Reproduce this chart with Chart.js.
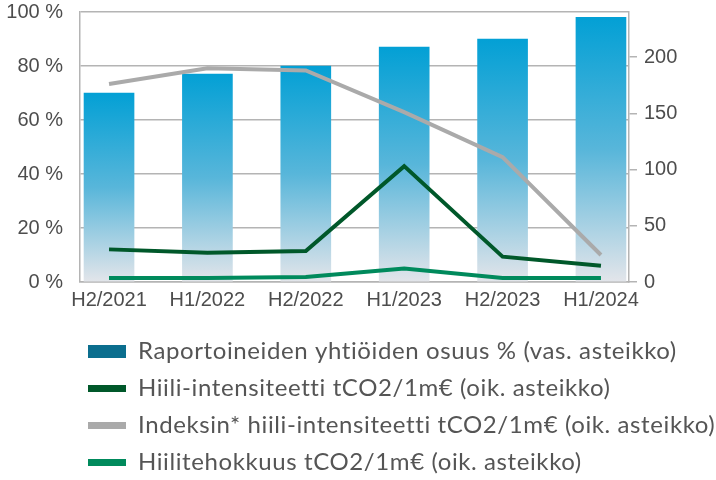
<!DOCTYPE html>
<html>
<head>
<meta charset="utf-8">
<script src="https://cdn.jsdelivr.net/npm/chart.js@4/dist/chart.umd.min.js"></script>
<style>
  html, body { margin: 0; padding: 0; background: #fff; }
  #wrap { width: 716px; height: 480px; }
</style>
</head>
<body>
<div id="wrap"><canvas id="chart" width="716" height="480"></canvas></div>
<script>
// periods
const categories = ["H2/2021", "H1/2022", "H2/2022", "H1/2023", "H2/2023", "H1/2024"];
// left axis, %
const shareReported = [70, 77, 80, 87, 90, 98];
// right axis, tCO2/1m€
const carbonIntensity = [29, 26, 27.5, 103, 22.5, 14.5];
const indexIntensity = [176, 190, 188, 151, 111, 24];
const carbonEfficiency = [3.5, 3.5, 4.4, 12, 3.5, 3.5];

const labels = [
  "Raportoineiden yhtiöiden osuus % (vas. asteikko)",
  "Hiili-intensiteetti tCO2/1m€ (oik. asteikko)",
  "Indeksin* hiili-intensiteetti tCO2/1m€ (oik. asteikko)",
  "Hiilitehokkuus tCO2/1m€ (oik. asteikko)"
];
const legendColors = ["#0b6e8e", "#00582a", "#aaaaaa", "#008a5c"];

const toPoints = (arr) => arr.map((v, i) => ({ x: i, y: v }));

// each bar gets its own gradient from its top down to zero
function barFill(ctx) {
  const chart = ctx.chart;
  const yScale = chart.scales.y;
  if (!yScale || !chart.chartArea || ctx.type !== "data") return "#0aa0d6";
  const top = yScale.getPixelForValue(ctx.parsed.y);
  const bottom = yScale.getPixelForValue(0);
  const g = chart.ctx.createLinearGradient(0, top, 0, bottom);
  g.addColorStop(0, "#03a0d5");
  g.addColorStop(0.5, "#58b6da");
  g.addColorStop(1, "#e3e5ea");
  return g;
}

// legend sits indented under the plot, with a bit of letter spacing
const legendShift = {
  id: "legendShift",
  afterLayout(chart) {
    const lg = chart.legend;
    lg.left = 75;
    lg.top += 4.5;
    lg.bottom += 4.5;
    if (!lg._spaced) {
      const draw = lg.draw.bind(lg);
      lg.draw = function (area) {
        const c = this.ctx;
        c.save();
        c.letterSpacing = "0.6px";
        draw(area);
        c.restore();
      };
      lg._spaced = true;
    }
  }
};

const gridColor = "#b4b4b4";
const tickColor = "#4d4d4d";
const tickFont = "'Liberation Sans', Arial, sans-serif";

// tick padding should not push the plot down
const fixVertical = (width) => (axis) => {
  axis.width = width;
  axis.paddingTop = 0;
  axis.paddingBottom = 0;
};

new Chart(document.getElementById("chart"), {
  type: "bar",
  data: {
    datasets: [
      {
        type: "bar",
        label: labels[0],
        data: toPoints(shareReported),
        backgroundColor: barFill,
        barThickness: 50,
        yAxisID: "y",
        order: 2
      },
      {
        type: "line",
        label: labels[1],
        data: toPoints(carbonIntensity),
        borderColor: legendColors[1],
        backgroundColor: legendColors[1],
        borderWidth: 4,
        pointRadius: 0,
        yAxisID: "y1",
        order: 1
      },
      {
        type: "line",
        label: labels[2],
        data: toPoints(indexIntensity),
        borderColor: legendColors[2],
        backgroundColor: legendColors[2],
        borderWidth: 4,
        pointRadius: 0,
        yAxisID: "y1",
        order: 1
      },
      {
        type: "line",
        label: labels[3],
        data: toPoints(carbonEfficiency),
        borderColor: legendColors[3],
        backgroundColor: legendColors[3],
        borderWidth: 4,
        pointRadius: 0,
        yAxisID: "y1",
        order: 1
      }
    ]
  },
  options: {
    responsive: false,
    animation: false,
    layout: { padding: { top: 12, left: 0, right: 0, bottom: 0 } },
    plugins: {
      tooltip: { enabled: false },
      legend: {
        position: "bottom",
        align: "start",
        labels: {
          usePointStyle: true,
          pointStyleWidth: 38,
          boxHeight: 13,
          padding: 13,
          color: "#555555",
          font: { family: "Lato", size: 24 },
          generateLabels: (chart) => {
            const items = Chart.defaults.plugins.legend.labels.generateLabels(chart);
            items.sort((a, b) => a.datasetIndex - b.datasetIndex);
            items.forEach((it) => {
              const i = it.datasetIndex;
              it.fillStyle = legendColors[i];
              it.strokeStyle = legendColors[i];
              it.pointStyle = i === 0 ? "rect" : "line";
              it.lineWidth = i === 0 ? 0 : 7;
              it.lineCap = "butt";
            });
            return items;
          }
        }
      }
    },
    scales: {
      x: {
        type: "linear",
        offset: false,
        min: -0.295,
        max: 5.285,
        grid: { display: false, drawTicks: false },
        border: { display: true, color: gridColor, width: 1.5 },
        afterBuildTicks: (axis) => {
          axis.ticks = categories.map((_, i) => ({ value: i }));
        },
        afterFit: (axis) => { axis.height = 40; },
        ticks: {
          padding: 6,
          color: tickColor,
          font: { family: tickFont, size: 20 },
          maxRotation: 0,
          autoSkip: false,
          callback: (v) => categories[v]
        }
      },
      y: {
        position: "left",
        min: 0,
        max: 100,
        grid: { color: gridColor, lineWidth: 1.5, drawTicks: false },
        border: { display: true, color: gridColor, width: 1.5 },
        afterFit: fixVertical(80),
        ticks: {
          stepSize: 20,
          padding: 17,
          color: tickColor,
          font: { family: tickFont, size: 20 },
          callback: (v) => v + " %"
        }
      },
      y1: {
        position: "right",
        min: 0,
        max: 240,
        grid: { drawOnChartArea: false, color: gridColor, lineWidth: 1.5, tickLength: 8 },
        border: { display: true, color: gridColor, width: 1.5 },
        afterFit: fixVertical(87),
        ticks: {
          stepSize: 50,
          includeBounds: false,
          padding: 7,
          color: tickColor,
          font: { family: tickFont, size: 20 }
        }
      }
    }
  },
  plugins: [legendShift]
});
</script>
</body>
</html>
